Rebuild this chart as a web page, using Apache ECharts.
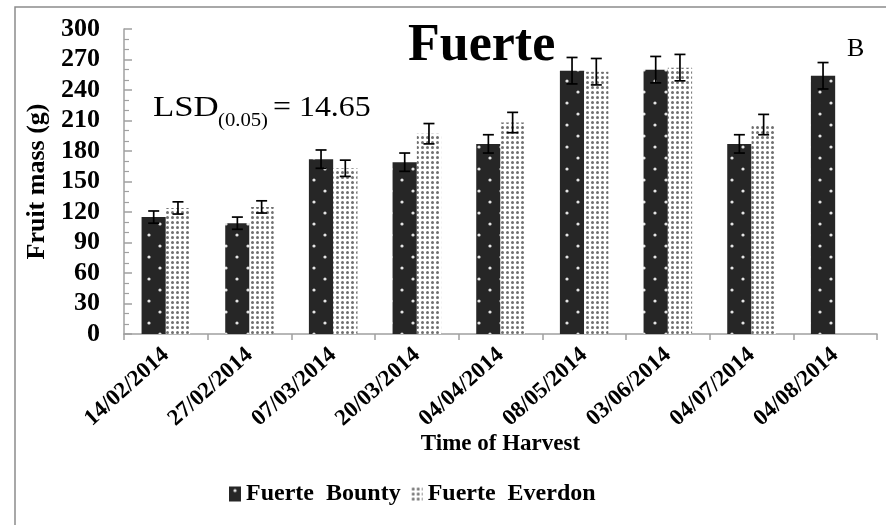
<!DOCTYPE html>
<html>
<head>
<meta charset="utf-8">
<script src="https://cdn.jsdelivr.net/npm/echarts@6/dist/echarts.min.js"></script>
<style>
html,body{margin:0;padding:0;background:#fff;}
#chart{width:886px;height:525px;}
</style>
</head>
<body>
<div id="chart"></div>
<script>
// ---- data ----
const categories = ['14/02/2014','27/02/2014','07/03/2014','20/03/2014','04/04/2014','08/05/2014','03/06/2014','04/07/2014','04/08/2014'];
const seriesNames = ['Fuerte  Bounty', 'Fuerte  Everdon'];
const bountyValues = [115, 109, 172, 169, 187, 259, 260, 187, 254];
const everdonValues = [124, 125, 163, 197, 208, 258, 262, 206, null];
const bountyErrors = [6, 6, 9, 9, 9, 13, 13, 9, 13];
const everdonErrors = [6, 6, 8, 10, 10, 13, 13, 10, null];
const yMin = 0, yMax = 300, yInterval = 30;

// ---- patterns ----
function makePattern(w, h, bg, dots, dotColor, r) {
  const c = document.createElement('canvas');
  c.width = w; c.height = h;
  const ctx = c.getContext('2d');
  ctx.fillStyle = bg; ctx.fillRect(0, 0, w, h);
  ctx.fillStyle = dotColor;
  dots.forEach(function (d) { ctx.beginPath(); ctx.arc(d[0], d[1], r, 0, Math.PI * 2); ctx.fill(); });
  return c;
}
const darkPattern = { image: makePattern(22, 22, '#262626', [[6, 4], [17, 15]], '#e4e4e4', 1.6), repeat: 'repeat' };
const lightPattern = { image: makePattern(5, 5, '#ffffff', [[2.5, 2.5]], '#707070', 1.5), repeat: 'repeat' };

const BAR_FRAC = 0.29;
const serif = 'Liberation Serif';

function errorRenderer(side) {
  return function (params, api) {
    const i = api.value(0), v = api.value(1), e = api.value(2);
    if (v == null || isNaN(v) || e == null || isNaN(e)) return;
    const band = api.size([1, 0])[0];
    const off = side * band * BAR_FRAC / 2;
    const top = api.coord([i, v + e]);
    const bot = api.coord([i, v - e]);
    const x = top[0] + off;
    const cap = 5.5;
    const st = { stroke: '#000', lineWidth: 1.7 };
    return {
      type: 'group',
      children: [
        { type: 'line', shape: { x1: x, y1: top[1], x2: x, y2: bot[1] }, style: st },
        { type: 'line', shape: { x1: x - cap, y1: top[1], x2: x + cap, y2: top[1] }, style: st },
        { type: 'line', shape: { x1: x - cap, y1: bot[1], x2: x + cap, y2: bot[1] }, style: st }
      ]
    };
  };
}

const chart = echarts.init(document.getElementById('chart'), null, { renderer: 'canvas' });
const option = {
  backgroundColor: '#fff',
  animation: false,
  grid: { left: 124, right: 9, top: 29, bottom: 191, containLabel: false },
  legend: {
    data: seriesNames,
    left: 224, top: 477,
    icon: 'rect', itemWidth: 12, itemHeight: 15, itemGap: 10,
    textStyle: { fontFamily: serif, fontWeight: 'bold', fontSize: 24, color: '#000' }
  },
  xAxis: {
    type: 'category',
    data: categories,
    name: 'Time of Harvest',
    nameLocation: 'middle',
    nameGap: 99,
    nameMoveOverlap: false,
    nameTextStyle: { fontFamily: serif, fontWeight: 'bold', fontSize: 23, color: '#000' },
    axisLine: { lineStyle: { color: '#a0a0a0', width: 1.5 } },
    axisTick: { show: true, length: 6, lineStyle: { color: '#a0a0a0', width: 1.5 } },
    axisLabel: { rotate: 42, margin: 18, interval: 0, fontFamily: serif, fontWeight: 'bold', fontSize: 23, color: '#000' }
  },
  yAxis: {
    type: 'value',
    min: yMin, max: yMax, interval: yInterval,
    name: 'Fruit mass (g)',
    nameLocation: 'middle',
    nameGap: 72,
    nameTextStyle: { fontFamily: serif, fontWeight: 'bold', fontSize: 26, color: '#000' },
    axisLine: { show: true, lineStyle: { color: '#a0a0a0', width: 1.5 } },
    axisTick: { show: true, inside: true, length: 8, lineStyle: { color: '#a0a0a0', width: 1.5 } },
    minorTick: { show: true, splitNumber: 3, length: 5, lineStyle: { color: '#a0a0a0', width: 1.2 } },
    splitLine: { show: false },
    axisLabel: { margin: 24, fontFamily: serif, fontWeight: 'bold', fontSize: 26, color: '#000' }
  },
  series: [
    {
      name: seriesNames[0], type: 'bar', data: bountyValues,
      barWidth: (BAR_FRAC * 100) + '%', barGap: '0%',
      itemStyle: { color: darkPattern }
    },
    {
      name: seriesNames[1], type: 'bar', data: everdonValues,
      barWidth: (BAR_FRAC * 100) + '%', barGap: '0%',
      itemStyle: { color: lightPattern }
    },
    {
      type: 'custom', renderItem: errorRenderer(-1), z: 10,
      data: bountyValues.map(function (v, i) { return [i, v, bountyErrors[i]]; })
    },
    {
      type: 'custom', renderItem: errorRenderer(1), z: 10,
      data: everdonValues.map(function (v, i) { return [i, v == null ? NaN : v, everdonErrors[i] == null ? NaN : everdonErrors[i]]; })
    }
  ],
  graphic: [
    { type: 'rect', silent: true, shape: { x: 15, y: 7, width: 900, height: 600 }, style: { fill: 'none', stroke: '#8c8c8c', lineWidth: 1.5 } },
    { type: 'text', x: 408, y: 47, style: { text: 'Fuerte', fontFamily: serif, fontWeight: 'bold', fontSize: 52, fill: '#000', verticalAlign: 'middle', align: 'left' } },
    { type: 'text', x: 847, y: 49, style: { text: 'B', fontFamily: serif, fontSize: 26, fill: '#000', verticalAlign: 'middle', align: 'left' } },
    { type: 'text', x: 153, y: 108, scaleX: 1.2, style: { text: 'LSD', fontFamily: serif, fontSize: 29, fill: '#000', verticalAlign: 'middle', align: 'left' } },
    { type: 'text', x: 218, y: 121, scaleX: 1.15, style: { text: '(0.05)', fontFamily: serif, fontSize: 18, fill: '#000', verticalAlign: 'middle', align: 'left' } },
    { type: 'text', x: 273, y: 108, scaleX: 1.1, style: { text: '= 14.65', fontFamily: serif, fontSize: 29, fill: '#000', verticalAlign: 'middle', align: 'left' } }
  ]
};
chart.setOption(option);
</script>
</body>
</html>
